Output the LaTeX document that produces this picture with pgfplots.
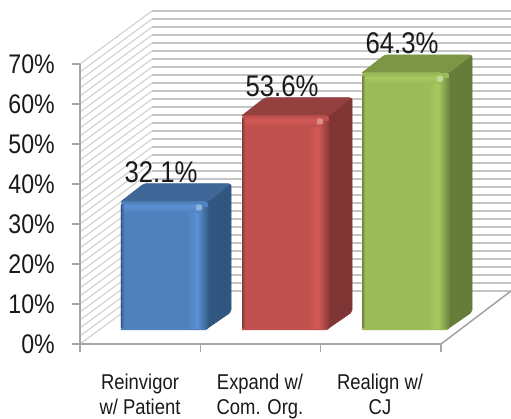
\documentclass[border=0pt]{standalone}
\usepackage{fontspec}
\setmainfont[FakeStretch=0.86]{Liberation Sans}
\usepackage{pgfplots}
\pgfplotsset{compat=1.18}
\definecolor{gridc}{HTML}{C6C6C6}
\definecolor{hatchc}{HTML}{D2D2D2}
\definecolor{axisc}{HTML}{A6A6A6}
\definecolor{bluea}{HTML}{4F81BD}
\definecolor{blueb}{HTML}{5B92D4}
\definecolor{bluec}{HTML}{3F6797}
\definecolor{blued}{HTML}{315680}
\definecolor{reda}{HTML}{C0504D}
\definecolor{redb}{HTML}{D25A56}
\definecolor{redc}{HTML}{94403E}
\definecolor{redd}{HTML}{7F3533}
\definecolor{greena}{HTML}{9BBB59}
\definecolor{greenb}{HTML}{A8C860}
\definecolor{greenc}{HTML}{7C9645}
\definecolor{greend}{HTML}{667D3A}

% One bar: left edge of front face, value, then front, light, top and side colours.
\newcommand{\drawbar}[6]{%
  % side face
  \addplot[draw=#6,fill=#6,line width=0.6pt,rounded corners=2pt] coordinates
    {({#1+84},3.5) ({#1+110},8) ({#1+110},{#2+8}) ({#1+84},{#2+3.5}) ({#1+84},3.5)};
  % top face
  \addplot[draw=#5,fill=#5,line width=0.6pt,rounded corners=3pt] coordinates
    {(#1,{#2+3.5}) ({#1+23},{#2+8}) ({#1+110},{#2+8}) ({#1+87},{#2+3.5}) (#1,{#2+3.5})};
  % front face
  \addplot[draw=none,fill=#3,rounded corners=2.5pt] coordinates
    {(#1,3.5) ({#1+87},3.5) ({#1+87},{#2+3.5}) (#1,{#2+3.5}) (#1,3.5)};
  % darker rim on the left of the front
  \addplot[draw=none,left color=#3!70!black,right color=#3] coordinates
    {(#1,4.2) ({#1+3},4.2) ({#1+3},{#2+2.6}) (#1,{#2+2.6}) (#1,4.2)};
  % lit strip towards the right edge of the front
  \addplot[draw=none,left color=#3,right color=#4] coordinates
    {({#1+66},4) ({#1+76},4) ({#1+76},{#2+2}) ({#1+66},{#2+2}) ({#1+66},4)};
  \addplot[draw=none,left color=#4,right color=#3!72!black] coordinates
    {({#1+76},4) ({#1+87},4) ({#1+87},{#2+2}) ({#1+76},{#2+2}) ({#1+76},4)};
  % bevel along the top of the front
  \addplot[draw=none,top color=#3!80!#5,bottom color=#4] coordinates
    {({#1+3},{#2+2.4}) ({#1+78},{#2+2.4}) ({#1+78},{#2+3.5}) ({#1+3},{#2+3.5}) ({#1+3},{#2+2.4})};
  \addplot[draw=none,top color=#4,bottom color=#3] coordinates
    {({#1+3},{#2+0.8}) ({#1+78},{#2+0.8}) ({#1+78},{#2+2.4}) ({#1+3},{#2+2.4}) ({#1+3},{#2+0.8})};
  % small glint on the corner
  \addplot[draw=none,fill=#4!70!white,rounded corners=1.5pt] coordinates
    {({#1+75},{#2+1.3}) ({#1+81},{#2+1.3}) ({#1+81},{#2+2.8}) ({#1+75},{#2+2.8}) ({#1+75},{#2+1.3})};
  % value above the bar
  \node[font=\fontsize{30}{30}\selectfont,inner sep=0pt,text=black!90] at (axis cs:{#1+40},{#2+10.9}) {#2\%};
}

\begin{document}
\begin{tikzpicture}
\useasboundingbox (-80bp,-75bp) rectangle (431bp,344bp);
\begin{axis}[
  at={(0,0)},anchor=south west,
  scale only axis,width=361bp,height=280bp,
  xmin=80,xmax=441,ymin=0,ymax=70,
  clip=false,
  axis line style={draw=none},
  axis x line*=bottom,axis y line*=left,
  xtick={80,200.3,320.7,441},xticklabels={},
  ytick={0,10,...,70},
  yticklabel={\pgfmathprintnumber{\tick}\%},
  /pgf/number format/assume math mode=true,
  tick align=outside,
  tick style={draw=axisc,line width=1.1pt},
  major tick length=8bp,
  yticklabel style={font=\fontsize{27}{27}\selectfont,text=black!90,inner sep=0pt,xshift=-17bp},
  extra x ticks={140,260,380},
  extra x tick labels={{Reinvigor\\w/ Patient},{Expand w/\\Com. Org.},{Realign w/\\CJ}},
  extra x tick style={major tick length=0pt,tick style={draw=none},
    xticklabel style={font=\fontsize{21.5}{25}\selectfont,align=center,text=black!90,inner sep=0pt,yshift=-30bp}},
]
% walls: rulings every 2 percent across the side wall and the back wall
\pgfplotsinvokeforeach{0,2,...,70}{
  \addplot[hatchc,line width=1.2pt] coordinates
    {(80,#1) (152,{#1+13.25})};
  \addplot[gridc,line width=1.5pt] coordinates
    {(152,{#1+13.25}) (511,{#1+13.25})};
}
% axis lines and floor edges
\addplot[axisc,line width=1.6pt] coordinates {(80,70) (80,0) (441,0) (511,13.25)};
% bars
\drawbar{121}{32.1}{bluea}{blueb}{bluec}{blued}
\drawbar{242}{53.6}{reda}{redb}{redc}{redd}
\drawbar{362}{64.3}{greena}{greenb}{greenc}{greend}
\end{axis}
\end{tikzpicture}
\end{document}
